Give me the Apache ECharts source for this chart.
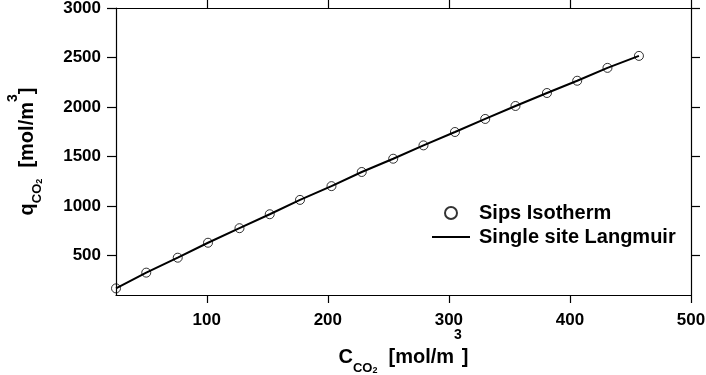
<!DOCTYPE html>
<html>
<head>
<meta charset="utf-8">
<script src="https://cdn.jsdelivr.net/npm/echarts@6/dist/echarts.min.js"></script>
<style>
html,body{margin:0;padding:0;background:#fff;}
#chart{width:706px;height:375px;}
</style>
</head>
<body>
<div id="chart"></div>
<script>
// Data
var cConc = [25, 50, 76, 101, 127, 152, 177, 203, 228, 254, 279, 305, 330, 355, 381, 406, 431, 457];
var sipsQ = [167, 326, 477, 628, 775, 916, 1061, 1200, 1343, 1477, 1612, 1747, 1879, 2010, 2141, 2265, 2395, 2516];
var langmuirQ = [167, 326, 477, 628, 775, 916, 1061, 1200, 1343, 1477, 1612, 1747, 1879, 2010, 2141, 2265, 2395, 2516];
var xTicks = [100, 200, 300, 400, 500];
var yTicks = [500, 1000, 1500, 2000, 2500, 3000];
var seriesNames = ['Sips Isotherm', 'Single site Langmuir'];

var FONT = '"Liberation Sans", Arial, sans-serif';
var chart = echarts.init(document.getElementById('chart'), null, {renderer: 'canvas'});

function pairs(xs, ys) {
  var out = [];
  for (var i = 0; i < xs.length; i++) out.push([xs[i], ys[i]]);
  return out;
}
function plain(v) { return String(v); }

function makeRich(subShift, sub2Shift, supShift) {
  return {
    b: {fontSize: 20, fontWeight: 'bold', fontFamily: FONT, color: '#000', verticalAlign: 'middle'},
    s: {fontSize: 13, fontWeight: 'bold', fontFamily: FONT, color: '#000', verticalAlign: 'middle', padding: [2 * subShift, 0, 0, 0]},
    ss: {fontSize: 9, fontWeight: 'bold', fontFamily: FONT, color: '#000', verticalAlign: 'middle', padding: [2 * sub2Shift, 0, 0, 0]},
    p: {fontSize: 14, fontWeight: 'bold', fontFamily: FONT, color: '#000', verticalAlign: 'middle', padding: [0, 0, 2 * supShift, 0]}
  };
}

var axisLineStyle = {color: '#000', width: 1.2};
var labelStyle = {color: '#000', fontSize: 17, fontWeight: 'bold', fontFamily: FONT, formatter: plain};

var option = {
  animation: false,
  backgroundColor: '#fff',
  grid: {left: 116, right: 15, top: 8, bottom: 80, containLabel: false, outerBoundsMode: 'none'},
  legend: {
    orient: 'vertical',
    left: 431,
    top: 203,
    padding: 0,
    itemWidth: 38,
    itemHeight: 12,
    itemGap: 4,
    data: [
      {name: seriesNames[0]},
      {name: seriesNames[1], itemStyle: {color: 'rgba(0,0,0,0)', borderWidth: 0, opacity: 0}}
    ],
    textStyle: {color: '#000', fontSize: 20, fontWeight: 'bold', fontFamily: FONT, lineHeight: 20, padding: [0, 0, 0, 4]}
  },
  xAxis: [{
    type: 'value', position: 'bottom', min: 25, max: 500,
    name: '{b|C}{s|CO}{ss|2}{b|  [mol/m}{p|3}{b|]}',
    nameLocation: 'middle', nameGap: 33, nameMoveOverlap: false,
    nameTextStyle: {rich: makeRich(11, 14, 22)},
    axisLine: {show: true, onZero: false, lineStyle: axisLineStyle},
    axisTick: {show: true, inside: false, length: 8, lineStyle: axisLineStyle, customValues: xTicks},
    axisLabel: Object.assign({show: true, margin: 17, customValues: xTicks}, labelStyle),
    splitLine: {show: false}
  }, {
    type: 'value', position: 'top', min: 25, max: 500,
    axisLine: {show: true, onZero: false, lineStyle: axisLineStyle},
    axisTick: {show: true, inside: false, length: 8, lineStyle: axisLineStyle, customValues: xTicks},
    axisLabel: {show: false},
    splitLine: {show: false}
  }],
  yAxis: [{
    type: 'value', position: 'left', min: 100, max: 3000,
    name: '{b|q}{s|CO}{ss|2}{b|  [mol/m}{p|3}{b|]}',
    nameLocation: 'middle', nameGap: 68, nameRotate: 90, nameMoveOverlap: false,
    nameTextStyle: {rich: makeRich(10, 13, 14)},
    axisLine: {show: true, onZero: false, lineStyle: axisLineStyle},
    axisTick: {show: true, inside: false, length: 9, lineStyle: axisLineStyle, customValues: yTicks},
    axisLabel: Object.assign({show: true, margin: 15, customValues: yTicks}, labelStyle),
    splitLine: {show: false}
  }, {
    type: 'value', position: 'right', min: 100, max: 3000,
    axisLine: {show: true, onZero: false, lineStyle: axisLineStyle},
    axisTick: {show: true, inside: false, length: 9, lineStyle: axisLineStyle, customValues: yTicks},
    axisLabel: {show: false},
    splitLine: {show: false}
  }],
  series: [{
    name: seriesNames[0],
    type: 'scatter',
    xAxisIndex: 0, yAxisIndex: 0,
    symbol: 'circle',
    symbolSize: 9,
    z: 3,
    itemStyle: {color: 'rgba(0,0,0,0)', borderColor: '#000', borderWidth: 1},
    data: pairs(cConc, sipsQ)
  }, {
    name: seriesNames[1],
    type: 'line',
    xAxisIndex: 0, yAxisIndex: 0,
    symbol: 'none',
    showSymbol: false,
    z: 2,
    lineStyle: {color: '#000', width: 2},
    itemStyle: {color: '#000'},
    data: pairs(cConc, langmuirQ)
  }]
};
chart.setOption(option);
</script>
</body>
</html>
